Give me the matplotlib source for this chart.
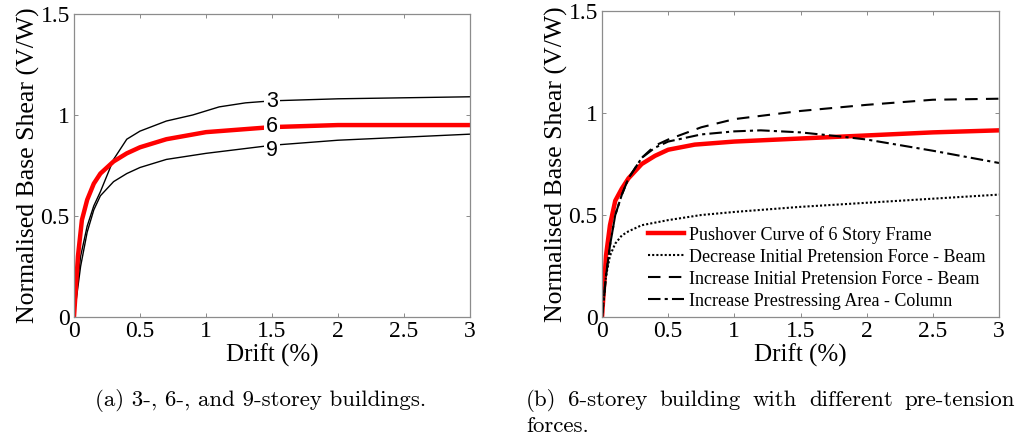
import matplotlib.pyplot as plt

# (a) 3-, 6-, 9-storey pushover curves
drift_3 = [0, 0.05, 0.1, 0.15, 0.2, 0.3, 0.4, 0.5, 0.7, 0.9, 1.1, 1.3, 1.5, 2.0, 3.0]
shear_3 = [0, 0.30, 0.45, 0.55, 0.62, 0.78, 0.88, 0.92, 0.97, 1.00, 1.04, 1.06, 1.07, 1.08, 1.09]
drift_6 = [0, 0.03, 0.06, 0.1, 0.15, 0.2, 0.3, 0.4, 0.5, 0.7, 1.0, 1.5, 2.0, 3.0]
shear_6 = [0, 0.30, 0.48, 0.58, 0.66, 0.71, 0.77, 0.81, 0.84, 0.88, 0.915, 0.94, 0.95, 0.95]
drift_9 = [0, 0.05, 0.1, 0.15, 0.2, 0.3, 0.4, 0.5, 0.7, 1.0, 1.5, 2.0, 3.0]
shear_9 = [0, 0.25, 0.42, 0.53, 0.60, 0.67, 0.71, 0.74, 0.78, 0.81, 0.85, 0.875, 0.905]
label_x = 1.5
label_txt = ["3", "6", "9"]
label_y = [1.065, 0.945, 0.825]

# (b) 6-storey with pre-tension variants
drift_base = [0, 0.03, 0.06, 0.1, 0.15, 0.2, 0.3, 0.4, 0.5, 0.7, 1.0, 1.5, 2.0, 2.5, 3.0]
shear_base = [0, 0.30, 0.45, 0.57, 0.63, 0.68, 0.75, 0.79, 0.82, 0.845, 0.86, 0.875, 0.89, 0.905, 0.915]
drift_dec = [0, 0.03, 0.06, 0.1, 0.15, 0.2, 0.3, 0.5, 0.75, 1.0, 1.5, 2.0, 2.5, 3.0]
shear_dec = [0, 0.20, 0.30, 0.36, 0.40, 0.42, 0.45, 0.475, 0.50, 0.515, 0.54, 0.56, 0.58, 0.60]
drift_inc = [0, 0.03, 0.06, 0.1, 0.15, 0.2, 0.3, 0.4, 0.5, 0.75, 1.0, 1.5, 2.0, 2.5, 3.0]
shear_inc = [0, 0.20, 0.35, 0.50, 0.60, 0.68, 0.78, 0.84, 0.87, 0.93, 0.97, 1.01, 1.04, 1.065, 1.07]
drift_col = [0, 0.03, 0.06, 0.1, 0.15, 0.2, 0.3, 0.4, 0.5, 0.75, 1.0, 1.2, 1.5, 1.8, 2.0, 2.5, 3.0]
shear_col = [0, 0.20, 0.35, 0.50, 0.60, 0.68, 0.78, 0.83, 0.86, 0.895, 0.91, 0.915, 0.905, 0.885, 0.87, 0.815, 0.755]
legend_labels = ["Pushover Curve of 6 Story Frame",
                 "Decrease Initial Pretension Force - Beam",
                 "Increase Initial Pretension Force - Beam",
                 "Increase Prestressing Area - Column"]

xticks = [0, 0.5, 1, 1.5, 2, 2.5, 3]
xtick_labels = ["0", "0.5", "1", "1.5", "2", "2.5", "3"]
yticks = [0, 0.5, 1, 1.5]
ytick_labels = ["0", "0.5", "1", "1.5"]

caption_a = "(a) 3-, 6-, and 9-storey buildings."
caption_b1 = "(b) 6-storey building with different pre-tension"
caption_b2 = "forces."

serif = ["Liberation Serif", "DejaVu Serif"]
cm = ["cmr10", "DejaVu Serif"]

fig = plt.figure(figsize=(10.19, 4.47), dpi=100)
ax1 = fig.add_axes([0.0726, 0.2908, 0.3886, 0.678])
ax2 = fig.add_axes([0.5908, 0.2908, 0.3896, 0.6846])


def style_axes(ax):
    ax.set_xlim(0, 3)
    ax.set_ylim(0, 1.5)
    ax.set_xticks(xticks)
    ax.set_xticklabels(xtick_labels, fontfamily=serif, fontsize=17)
    ax.set_yticks(yticks)
    ax.set_yticklabels(ytick_labels, fontfamily=serif, fontsize=17)
    ax.tick_params(direction="in", length=3, width=0.6, color="#777777",
                   top=True, right=True, pad=3)
    for s in ax.spines.values():
        s.set_color("#8c8c8c")
        s.set_linewidth(0.9)
    ax.set_xlabel("Drift (%)", fontfamily=serif, fontsize=18, labelpad=1)
    ax.set_ylabel("Normalised Base Shear (V/W)", fontfamily=serif, fontsize=18.5, labelpad=0)


# left panel
ax1.plot(drift_3, shear_3, color="black", linewidth=1.0)
ax1.plot(drift_9, shear_9, color="black", linewidth=1.0)
ax1.plot(drift_6, shear_6, color="#ff0000", linewidth=3.2)
for t, y in zip(label_txt, label_y):
    ax1.text(label_x, y, t, ha="center", va="center", fontsize=15.5,
             fontfamily="Liberation Sans",
             bbox=dict(facecolor="white", edgecolor="none", pad=1.5))
style_axes(ax1)

# right panel
ax2.plot(drift_base, shear_base, color="#ff0000", linewidth=3.2, label=legend_labels[0])
ax2.plot(drift_dec, shear_dec, color="black", linewidth=1.5, linestyle=(0, (1, 1)), label=legend_labels[1])
ax2.plot(drift_inc, shear_inc, color="black", linewidth=1.5, linestyle=(0, (6, 4)), label=legend_labels[2])
ax2.plot(drift_col, shear_col, color="black", linewidth=1.5, linestyle=(0, (6, 2, 1.5, 2)), label=legend_labels[3])
style_axes(ax2)
ax2.legend(loc="lower right", frameon=False, prop={"family": serif, "size": 13},
           handlelength=2.0, handletextpad=0.3, labelspacing=0.28,
           borderaxespad=0.0, bbox_to_anchor=(0.985, 0.0))

# captions
fig.text(0.256, 0.105, caption_a, ha="center", va="center", fontfamily=cm, fontsize=16.5)

# caption (b) first line is justified between the two edges
words = caption_b1.split()
x_left, x_right = 526 / 1019, 1015 / 1019
fig.canvas.draw()
renderer = fig.canvas.get_renderer()
txts = [fig.text(0, 0.105, w, ha="left", va="center", fontfamily=cm, fontsize=16.5) for w in words]
widths = [t.get_window_extent(renderer).width / fig.bbox.width for t in txts]
gap = (x_right - x_left - sum(widths)) / (len(words) - 1)
x = x_left
for t, w in zip(txts, widths):
    t.set_x(x)
    x += w + gap
fig.text(x_left, 0.047, caption_b2, ha="left", va="center", fontfamily=cm, fontsize=16.5)

fig.savefig("out.png", dpi=100)
